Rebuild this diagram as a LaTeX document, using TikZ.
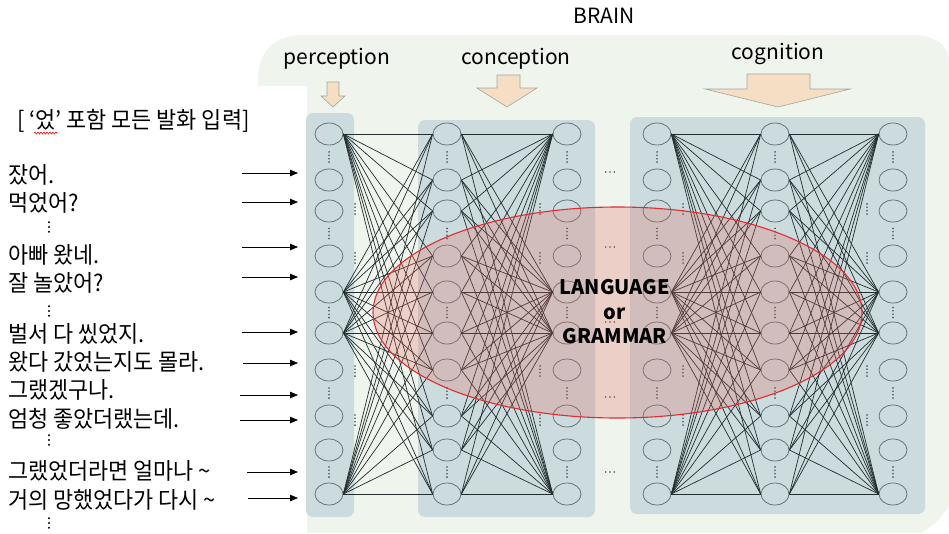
\documentclass[tikz,border=0pt]{standalone}
\usepackage{fontspec}
\setmainfont{Noto Sans CJK KR}
\newfontfamily\krfont[FakeStretch=0.95]{Noto Sans CJK KR}
\usetikzlibrary{arrows.meta,decorations.pathmorphing,shapes.geometric}
\definecolor{bgc}{RGB}{239,244,236}
\definecolor{boxc}{RGB}{203,219,222}
\definecolor{nodec}{RGB}{95,110,116}
\definecolor{linec}{RGB}{35,45,47}
\definecolor{peach}{RGB}{245,222,196}
\definecolor{arrowstroke}{RGB}{165,165,158}
\definecolor{redc}{RGB}{225,45,50}
\definecolor{redfill}{RGB}{230,100,90}
\definecolor{dotc}{RGB}{70,80,85}
\begin{document}
\begin{tikzpicture}[x=1pt,y=-1pt,
  neuron/.style={draw=nodec, ellipse, minimum width=28pt, minimum height=22pt, inner sep=0pt, line width=0.75pt},
  conn/.style={draw=linec, line width=0.7pt},
  layerbox/.style={fill=boxc, rounded corners=7pt},
  blockarrow/.style={fill=peach, draw=arrowstroke, line width=0.6pt, line join=miter},
  label/.style={font=\fontsize{21}{25}\selectfont, anchor=base, inner sep=0pt},
  utter/.style={font=\krfont\fontsize{23}{27}\selectfont, anchor=west, inner sep=0pt},
  inarrow/.style={-{Triangle[length=8pt,width=6.5pt]}, line width=0.8pt, draw=black}
]
\useasboundingbox (0,0) rectangle (949,533);
% brain background
\fill[bgc] (307,533) -- (307,86) -- (258,86) -- (258,80)
  .. controls (258,50) and (275,35) .. (305,35) -- (912,35)
  .. controls (935,35) and (949,45) .. (949,62) -- (949,505)
  .. controls (942,518) and (932,528) .. (920,533) -- cycle;
% layer boxes
\fill[layerbox] (306,113) rectangle (354,517);
\fill[layerbox] (418,120) rectangle (595,517);
\fill[layerbox] (630,117) rectangle (925,514);
% neurons
\foreach \c/\x in {P/329, A/447, B/567, G/657, H/775, K/893} {
  \foreach \i/\y in {1/134,2/180,3/211,4/256,5/292,6/333,7/370,8/416,9/450,10/494} {
    \node[neuron] (\c\i) at (\x,\y) {};
  }
}
% connections
\foreach \s in {1,5,6,10} {
  \foreach \t in {1,...,10} {
    \draw[conn] (P\s.east) -- (A\t.west);
    \draw[conn] (A\t.east) -- (B\s.west);
    \draw[conn] (G\s.east) -- (H\t.west);
    \draw[conn] (H\t.east) -- (K\s.west);
  }
}
% vertical dots inside columns
\foreach \x in {329,447,567,657,775,893} {
  \foreach \y in {157,233.5,312.5,393,472} {
    \foreach \k in {-1.5,-0.5,0.5,1.5} {
      \fill[dotc] (\x,\y+\k*3.4) circle (0.9);
    }
  }
}
% side dots
\foreach \x in {355,540,683,867} {
  \foreach \y in {209,258,371,420} {
    \foreach \k in {-1.5,-0.5,0.5,1.5} {
      \fill[dotc] (\x,\y+\k*3.4) circle (0.9);
    }
  }
}
% horizontal dots between groups
\foreach \y in {172,247,322,397,472} {
  \foreach \k in {-1,0,1} {
    \fill[dotc] (610+\k*4.2,\y) circle (0.85);
  }
}
% red ellipse
\draw[redc, line width=1.1pt, fill=redfill, fill opacity=0.25] (617.5,312.5) ellipse [x radius=244.5, y radius=105.5];
% block arrows
\draw[blockarrow] (327,82) -- (339,82) -- (339,96) -- (345,96) -- (333,107) -- (321,96) -- (327,96) -- cycle;
\draw[blockarrow] (497,75) -- (520,75) -- (520,88) -- (537,88) -- (507,107) -- (477,88) -- (497,88) -- cycle;
\draw[blockarrow] (747,74) -- (810,74) -- (810,89) -- (850,89) -- (778,107) -- (705,89) -- (747,89) -- cycle;
% labels
\node[label] (brain) at (604,23) {BRAIN};
\node[label] (perc) at (337,64) {perception};
\node[label] (conc) at (516,64) {conception};
\node[label] (cogn) at (778,59) {cognition};
\node[font=\bfseries\fontsize{20}{24.5}\selectfont, align=center, inner sep=0pt] (lang) at (615,312) {LANGUAGE\\or\\GRAMMAR};
% utterances
\node[utter] (head) at (17,121) {[ ‘었’ 포함 모든 발화 입력]};
\draw[red, line width=0.6pt, decorate, decoration={snake, amplitude=1pt, segment length=3pt}] (34,133) -- (57,133);
\node[utter] (u1) at (8,175) {잤어.};
\node[utter] (u2) at (8,203) {먹었어?};
\node[utter] (u3) at (8,255) {아빠 왔네.};
\node[utter] (u4) at (8,283) {잘 놀았어?};
\node[utter] (u5) at (8,334) {벌서 다 씼었지.};
\node[utter] (u6) at (8,362) {왔다 갔었는지도 몰라.};
\node[utter] (u7) at (8,390) {그랬겠구나.};
\node[utter] (u8) at (8,419) {엄청 좋았더랬는데.};
\node[utter] (u9) at (8,471) {그랬었더라면 얼마나 \textasciitilde};
\node[utter] (u10) at (8,500) {거의 망했었다가 다시 \textasciitilde};
\foreach \y in {227,311,440,523} {
  \foreach \k in {-1,0,1} {
    \fill[black] (49,\y+\k*4.8) circle (1.1);
  }
}
% input arrows
\foreach \n/\y/\s in {1/173/242,2/202/242,3/247/242,4/277/242,5/332/242,6/363/243,7/395/240,8/420/240,9/472/247,10/498/248} {
  \coordinate (s\n) at (\s,\y);
  \coordinate (e\n) at (298,\y);
  \draw[inarrow] (s\n) -- (e\n);
}
\end{tikzpicture}
\end{document}
